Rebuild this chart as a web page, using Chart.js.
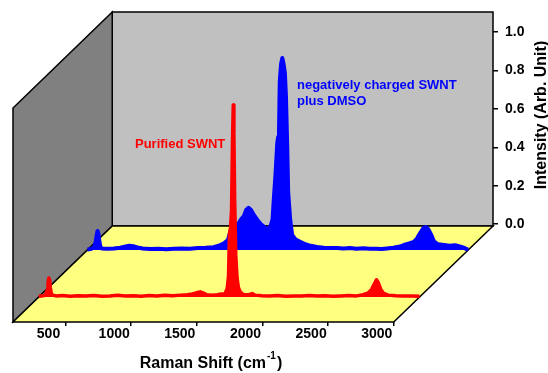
<!doctype html>
<html><head>
<meta charset="utf-8">
<script src="https://cdn.jsdelivr.net/npm/chart.js"></script>
<style type="text/css">
body { margin: 0; background: #fff; }
</style>
</head>
<body>
<canvas id="myChart" width="548" height="373"></canvas>

<script type="text/javascript">
// spectra: Raman shift (cm-1) and normalised intensity
var redShift = [100,120,140,155,163,170,176,182,188,195,205,230,280,340,400,460,520,580,640,700,760,820,880,940,1000,1060,1120,1180,1230,1270,1300,1330,1355,1380,1420,1460,1490,1505,1520,1535,1545,1552,1560,1568,1575,1581,1586,1592,1600,1610,1620,1635,1660,1700,1725,1745,1800,1860,1920,1980,2040,2100,2160,2220,2280,2340,2400,2460,2520,2570,2610,2635,2655,2672,2688,2705,2725,2760,2820,2880,2940,3000];
var redIntensity = [0.004,0.006,0.008,0.015,0.035,0.07,0.099,0.09,0.05,0.02,0.01,0.006,0.008,0.004,0.007,0.005,0.008,0.004,0.006,0.009,0.005,0.007,0.004,0.008,0.006,0.009,0.007,0.01,0.012,0.016,0.022,0.027,0.02,0.012,0.01,0.012,0.016,0.014,0.02,0.045,0.11,0.33,0.36,0.45,0.8,1.0,0.85,0.5,0.22,0.1,0.05,0.025,0.012,0.012,0.018,0.01,0.007,0.005,0.008,0.004,0.006,0.005,0.008,0.005,0.007,0.004,0.006,0.008,0.006,0.012,0.022,0.04,0.068,0.09,0.072,0.04,0.02,0.01,0.007,0.005,0.006,0.004];

var blueShift = [100,130,150,162,170,177,184,191,198,210,250,300,350,390,420,450,480,520,580,640,700,760,820,880,940,1000,1060,1100,1140,1170,1190,1215,1243,1270,1290,1310,1327,1345,1370,1396,1420,1457,1480,1495,1510,1518,1532,1546,1553,1559,1565,1575,1584,1594,1604,1612,1621,1629,1644,1659,1686,1724,1760,1800,1850,1900,1950,2000,2050,2100,2150,2200,2250,2300,2340,2380,2430,2480,2510,2550,2586,2610,2625,2645,2660,2678,2695,2716,2739,2770,2816,2860,2900,2930,2960,2985,3000];
var blueIntensity = [0.003,0.006,0.015,0.04,0.075,0.099,0.085,0.045,0.018,0.008,0.006,0.008,0.012,0.018,0.022,0.02,0.014,0.008,0.005,0.007,0.004,0.006,0.008,0.007,0.01,0.012,0.015,0.022,0.035,0.052,0.1,0.115,0.13,0.16,0.175,0.21,0.22,0.21,0.18,0.155,0.135,0.115,0.108,0.125,0.16,0.25,0.39,0.56,0.59,0.62,0.88,0.97,1.0,0.97,0.92,0.8,0.56,0.3,0.16,0.078,0.055,0.042,0.03,0.022,0.016,0.012,0.01,0.011,0.008,0.01,0.007,0.009,0.006,0.007,0.005,0.008,0.012,0.018,0.026,0.034,0.042,0.06,0.078,0.1,0.115,0.12,0.11,0.083,0.045,0.03,0.026,0.022,0.025,0.02,0.014,0.006,0.002];

var xTicks = [500, 1000, 1500, 2000, 2500, 3000];
var zTicks = [0, 0.2, 0.4, 0.6, 0.8, 1.0];

// 3d box, in axis units: depth goes up and to the right
var X_MIN = 100, X_MAX = 3000;
var DEPTH_X = 756, DEPTH_Y = 0.5;
var WALL_H = 1.115;
var Z_FLOOR = -0.01;
var redDepth = 0.26, blueDepth = 0.75;

var FONT = '"Liberation Sans", Arial, sans-serif';

function project(shift, inten, depth) {
    return shift.map(function(s, i) {
        return { x: s + depth * DEPTH_X, y: depth * DEPTH_Y + inten[i] };
    });
}

var boxPlugin = {
    id: 'box',
    beforeDatasetsDraw: function(chart) {
        var xs = chart.scales.x, ys = chart.scales.y, ctx = chart.ctx;
        function poly(pts, color) {
            ctx.beginPath();
            pts.forEach(function(p, i) {
                var px = xs.getPixelForValue(p[0]), py = ys.getPixelForValue(p[1]);
                if (i) ctx.lineTo(px, py); else ctx.moveTo(px, py);
            });
            ctx.closePath();
            ctx.fillStyle = color;
            ctx.fill();
            ctx.lineWidth = 1.5;
            ctx.strokeStyle = '#000';
            ctx.stroke();
        }
        var top = DEPTH_Y + WALL_H;
        ctx.save();
        poly([[X_MIN + DEPTH_X, DEPTH_Y], [X_MAX + DEPTH_X, DEPTH_Y], [X_MAX + DEPTH_X, top], [X_MIN + DEPTH_X, top]], '#c0c0c0');
        poly([[X_MIN, 0], [X_MIN + DEPTH_X, DEPTH_Y], [X_MIN + DEPTH_X, top], [X_MIN, WALL_H]], '#808080');
        poly([[X_MIN, 0], [X_MAX, 0], [X_MAX + DEPTH_X, DEPTH_Y], [X_MIN + DEPTH_X, DEPTH_Y]], '#ffff80');
        ctx.restore();
    },
    afterDraw: function(chart) {
        var ctx = chart.ctx;
        ctx.save();
        ctx.textBaseline = 'alphabetic';
        ctx.textAlign = 'left';

        // x title with superscript
        ctx.fillStyle = '#000';
        var t1 = 'Raman Shift (cm', sup = '-1', t2 = ')';
        ctx.font = 'bold 16px ' + FONT;
        var w1 = ctx.measureText(t1).width, w3 = ctx.measureText(t2).width;
        ctx.font = 'bold 10px ' + FONT;
        var w2 = ctx.measureText(sup).width;
        var x0 = 211 - (w1 + w2 + w3 + 2) / 2;
        ctx.font = 'bold 16px ' + FONT;
        ctx.fillText(t1, x0, 368);
        ctx.font = 'bold 10px ' + FONT;
        ctx.fillText(sup, x0 + w1 + 1, 359);
        ctx.font = 'bold 16px ' + FONT;
        ctx.fillText(t2, x0 + w1 + w2 + 2, 368);

        // z title
        ctx.save();
        ctx.translate(546, 115);
        ctx.rotate(-Math.PI / 2);
        ctx.textAlign = 'center';
        ctx.fillText('Intensity (Arb. Unit)', 0, 0);
        ctx.restore();

        // series labels
        ctx.font = 'bold 13px ' + FONT;
        ctx.fillStyle = '#ff0000';
        ctx.fillText('Purified SWNT', 135, 148);
        ctx.fillStyle = '#0000ff';
        ctx.fillText('negatively charged SWNT', 297, 89);
        ctx.fillText('plus DMSO', 297, 105);
        ctx.restore();
    }
};

var data = {
    datasets: [{
        label: 'Purified SWNT',
        data: project(redShift, redIntensity, redDepth),
        borderColor: '#ff0000',
        backgroundColor: '#ff0000',
        borderWidth: 3.5,
        borderJoinStyle: 'round',
        pointRadius: 0,
        tension: 0,
        fill: { value: redDepth * DEPTH_Y },
        order: 1
    }, {
        label: 'negatively charged SWNT plus DMSO',
        data: project(blueShift, blueIntensity, blueDepth),
        borderColor: '#0000ff',
        backgroundColor: '#0000ff',
        borderWidth: 4,
        borderJoinStyle: 'round',
        pointRadius: 0,
        tension: 0,
        fill: { value: blueDepth * DEPTH_Y },
        order: 2
    }]
};

var tickFont = { family: FONT, size: 14, weight: 'bold' };

var config = {
    type: 'line',
    data: data,
    plugins: [boxPlugin],
    options: {
        responsive: false,
        animation: false,
        layout: { padding: { left: 13, top: 12, right: 0, bottom: 0 } },
        plugins: { legend: { display: false }, tooltip: { enabled: false } },
        scales: {
            x: {
                type: 'linear',
                position: 'bottom',
                min: X_MIN,
                max: X_MAX + DEPTH_X,
                afterBuildTicks: function(s) { s.ticks = xTicks.map(function(v) { return { value: v }; }); },
                afterFit: function(s) { s.height = 51; s.paddingLeft = 0; s.paddingRight = 0; },
                grid: { drawOnChartArea: false, drawTicks: true, tickLength: 4, color: '#000', lineWidth: 1.5 },
                border: { display: false },
                ticks: {
                    autoSkip: false, maxRotation: 0, padding: 0, labelOffset: -17,
                    color: '#000', font: tickFont,
                    callback: function(v) { return String(v); }
                }
            },
            y: {
                type: 'linear',
                display: false,
                min: 0,
                max: DEPTH_Y + WALL_H
            },
            yr: {
                type: 'linear',
                position: 'right',
                min: Z_FLOOR - DEPTH_Y,
                max: Z_FLOOR + WALL_H,
                afterBuildTicks: function(s) { s.ticks = zTicks.map(function(v) { return { value: v }; }); },
                afterFit: function(s) { s.width = 55; s.paddingTop = 0; s.paddingBottom = 0; },
                grid: { drawOnChartArea: false, drawTicks: true, tickLength: 5, color: '#000', lineWidth: 1.5 },
                border: { display: false },
                ticks: {
                    autoSkip: false, padding: 7,
                    color: '#000', font: tickFont,
                    callback: function(v) { return v.toFixed(1); }
                }
            }
        }
    }
};

var myChart = new Chart(document.getElementById('myChart'), config);
</script>
</body>
</html>
